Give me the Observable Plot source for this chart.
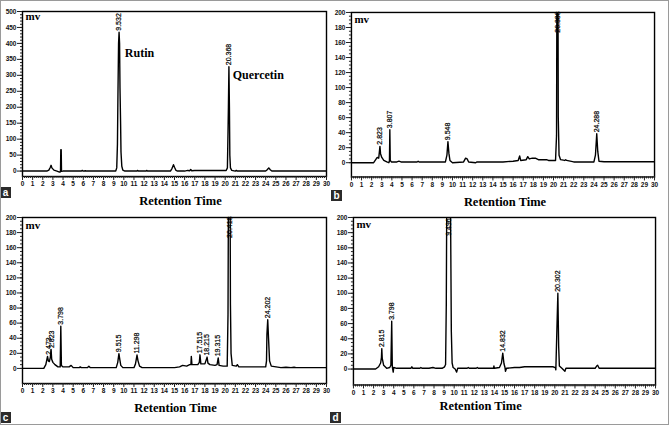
<!DOCTYPE html>
<html><head><meta charset="utf-8">
<script src="https://cdn.jsdelivr.net/npm/d3@7"></script>
<script src="https://cdn.jsdelivr.net/npm/@observablehq/plot@0.6"></script>
<style>
body{margin:0;background:#fff;}
#wrap{position:relative;width:669px;height:425px;box-sizing:border-box;border:1px solid #9a9a9a;overflow:hidden;background:#fff;}
.panel{position:absolute;}
.tag{position:absolute;background:#2b2b2b;color:#fff;font:bold 10px "Liberation Sans",Arial,sans-serif;width:11px;height:11px;line-height:11px;text-align:center;}
</style></head>
<body><div id="wrap"></div>
<script>
// ---- data: [retention time (min), signal (mV)] ----
const traceA = [[0,0],[2.4,0],[2.6,3],[2.75,12],[2.82,18],[2.9,10],[3.1,3],[3.4,0],[3.65,-3],[3.75,-2],[3.78,67],[3.82,67],[3.85,-1],[4.0,0],[5.8,0],[5.9,2],[6.0,0],[6.2,1],[6.3,0],[9.2,0],[9.3,10],[9.37,85],[9.42,242],[9.48,400],[9.53,435],[9.58,400],[9.62,262],[9.68,150],[9.72,60],[9.8,15],[9.9,3],[10.1,0],[11.3,0],[11.35,2],[11.45,0],[12.2,0],[12.25,2],[12.35,0],[14.6,0],[14.75,8],[14.9,20],[15.0,12],[15.15,2],[15.3,0],[16.0,0],[16.3,2],[16.5,1],[16.6,5],[16.7,1],[17.0,2],[20.1,2],[20.22,10],[20.28,121],[20.32,200],[20.37,327],[20.42,200],[20.46,50],[20.52,10],[20.65,2],[21.0,0],[21.1,2],[21.2,0],[24.0,0],[24.15,4],[24.3,10],[24.45,4],[24.6,0],[30,0]];
const traceB = [[0,0],[2.2,0],[2.4,4],[2.55,7],[2.7,6],[2.82,21.7],[2.88,12],[3.0,7],[3.2,3],[3.5,1],[3.7,0],[3.76,2],[3.8,44],[3.84,3],[3.95,1],[4.5,1],[4.7,2],[4.9,1],[6.5,1],[6.6,2],[6.7,1],[9.3,1],[9.45,10],[9.55,28],[9.65,12],[9.75,3],[10.0,0],[11.1,1],[11.3,6],[11.45,5],[11.6,1],[12.3,0],[12.4,1],[14.5,1],[15.0,1],[16.0,2],[16.5,3],[16.65,9],[16.75,3],[17.3,4],[17.45,8],[17.6,5],[17.9,6],[18.2,6],[18.5,4],[19.0,4],[19.3,4],[19.5,3],[20.2,3],[20.3,36],[20.34,260],[20.44,260],[20.47,61],[20.55,10],[20.7,4],[21.1,3],[21.2,4],[21.3,3],[22,1],[24.0,1],[24.15,10],[24.28,38.5],[24.38,15],[24.5,2],[25,1.3],[30,1.3]];
const traceC = [[0,0],[2.1,0],[2.3,5],[2.47,16],[2.55,10],[2.65,9],[2.75,15],[2.82,25],[2.88,12],[3.0,8],[3.2,5],[3.5,2],[3.72,2],[3.78,56],[3.84,4],[4.0,2],[4.6,2],[4.8,4],[5.0,1],[5.6,1],[5.7,2],[5.8,1],[6.4,1],[6.55,3],[6.7,1],[9.25,1],[9.4,8],[9.515,19.5],[9.6,12],[9.7,4],[9.9,1],[11.0,1],[11.15,6],[11.3,17.7],[11.4,10],[11.55,3],[11.8,1],[14.5,1],[15.0,1],[15.5,2],[15.8,4],[16.2,3],[16.5,5],[16.62,5],[16.66,16],[16.72,5],[17.3,5],[17.45,8],[17.515,18],[17.6,6],[17.8,6],[18.0,6],[18.215,15],[18.3,7],[18.5,5],[19.0,4],[19.2,5],[19.315,14],[19.4,4],[19.8,3],[20.2,3],[20.28,71],[20.33,260],[20.48,260],[20.52,85],[20.58,20],[20.7,4],[21.1,3],[21.2,5],[21.35,2],[24.0,2],[24.08,10],[24.12,45],[24.2,64.6],[24.28,40],[24.38,10],[24.55,3],[25.5,1],[26,1.5],[26.5,1],[26.8,1.5],[27,1],[30,1]];
const traceD = [[0,0],[2.2,0],[2.5,3],[2.7,8],[2.78,15],[2.815,27],[2.86,14],[3.0,5],[3.3,1],[3.6,2],[3.72,5],[3.8,63],[3.86,3],[3.95,-4],[4.0,2],[4.3,1],[5.7,1],[5.8,3],[5.9,1],[6.6,1],[6.7,2],[6.8,1],[7.5,1],[7.9,2],[8.2,1],[8.8,1],[9.05,3],[9.15,6],[9.22,85],[9.28,260],[9.62,260],[9.68,133],[9.72,50],[9.8,8],[9.9,2],[10.1,0],[10.25,-4],[10.35,1],[11.3,1],[11.4,2],[11.5,1],[12.2,1],[12.3,2],[12.4,1],[13.9,1],[13.95,4],[14.0,1],[14.5,2],[14.7,8],[14.83,21],[14.95,7],[15.05,2],[15.1,-3],[15.2,1],[16,2],[16.5,2],[17,3],[18,3],[19,3],[19.8,3],[20.05,2],[20.1,-1],[20.2,50],[20.3,100],[20.38,30],[20.45,4],[20.7,1],[21.0,-3],[21.1,1],[22,1],[24.0,1],[24.15,4],[24.25,5],[24.4,1],[30,1]];

// peak labels: [time, height where label starts, text]
const peaksA = [[9.532,435,"9.532"],[20.368,327,"20.368"]];
const peaksB = [[2.823,22,"2.823"],[3.807,44,"3.807"],[9.548,28,"9.548"],[20.388,171,"20.388"],[24.288,38.5,"24.288"]];
const peaksC = [[2.55,16,"2.473"],[2.88,25,"2.823"],[3.798,56,"3.798"],[9.515,19.5,"9.515"],[11.298,17.7,"11.298"],[17.515,18,"17.515"],[18.215,15,"18.215"],[19.315,14,"19.315"],[20.418,171,"20.418"],[24.202,64.6,"24.202"]];
const peaksD = [[2.815,27,"2.815"],[3.798,63,"3.798"],[9.45,174,"9.496"],[14.832,21,"14.832"],[20.302,100,"20.302"]];

// compound names (panel a)
const namesA = [[10.1,368,"Rutin"],[20.75,299,"Quercetin"]];

// axis ticks
const xTicks = [0,1,2,3,4,5,6,7,8,9,10,11,12,13,14,15,16,17,18,19,20,21,22,23,24,25,26,27,28,29,30];
const xMinor = d3.range(0, 30.001, 0.2);
const yTicksA = [0,50,100,150,200,250,300,350,400,450,500];
const yTicksBCD = [0,20,40,60,80,100,120,140,160,180,200];
const yMinorA = d3.range(0, 500.001, 10);
const yMinorBCD = d3.range(0, 200.001, 5);

const panels = [
  {id:"a", left:0, top:0, h:212, trace:traceA, peaks:peaksA, yDom:[-17,500], yT:yTicksA, yM:yMinorA, m:[11,9,36,22], mvDy:5, rtDx:6, rtDy:24, names:namesA, tag:[0,187]},
  {id:"b", left:334, top:0, h:212, trace:traceB, peaks:peaksB, yDom:[-19,200], yT:yTicksBCD, yM:yMinorBCD, m:[12,14,35,17], mvDy:7.5, rtDx:2, rtDy:25, names:[], tag:[331,190]},
  {id:"c", left:0, top:212, h:213, trace:traceC, peaks:peaksC, yDom:[-20,200], yT:yTicksBCD, yM:yMinorBCD, m:[5,9,42,22], mvDy:8, rtDx:1, rtDy:24, names:[], tag:[0,412]},
  {id:"d", left:334, top:212, h:213, trace:traceD, peaks:peaksD, yDom:[-21,200], yT:yTicksBCD, yM:yMinorBCD, m:[5,13,40,19], mvDy:7, rtDx:-24, rtDy:21, names:[], tag:[330,412]}
];

const wrap = document.getElementById("wrap");
const sans = "Liberation Sans, Arial, sans-serif";
const serif = "Liberation Serif, Times New Roman, serif";

for (const p of panels) {
  const chart = Plot.plot({
    width: 335, height: p.h,
    marginTop: p.m[0], marginRight: p.m[1], marginBottom: p.m[2], marginLeft: p.m[3],
    style: {background: "transparent", fontFamily: sans, color: "#000"},
    x: {domain: [0, 30]},
    y: {domain: p.yDom},
    marks: [
      Plot.line(p.trace, {x: d => d[0], y: d => d[1], stroke: "#000", strokeWidth: 1.4, clip: true}),
      Plot.text(p.peaks, {x: d => d[0], y: d => d[1], text: d => d[2], rotate: -90, textAnchor: "start", lineAnchor: "middle", dy: -1.5, fontSize: 7, fontFamily: sans, fill: "#000", stroke: "#000", strokeWidth: 0.2}),
      Plot.text(p.names, {x: d => d[0], y: d => d[1], text: d => d[2], textAnchor: "start", lineAnchor: "middle", fontSize: 12, fontWeight: "bold", fontFamily: serif, fill: "#000"}),
      Plot.frame({stroke: "#000", strokeWidth: 1.4}),
      Plot.axisY(p.yM, {tickSize: 2, tickFormat: () => "", label: null, stroke: "#222"}),
      Plot.axisY(p.yT, {tickSize: 5, tickPadding: 1, fontSize: 6.5, fontWeight: "bold", label: null, fill: "#111", stroke: "#222"}),
      Plot.axisX(xMinor, {tickSize: 2, tickFormat: () => "", label: null, stroke: "#222"}),
      Plot.axisX(xTicks, {tickSize: 4, tickPadding: 1, fontSize: 6.5, fontWeight: "bold", label: null, fill: "#111", stroke: "#222"}),
      Plot.text(["mv"], {frameAnchor: "top-left", text: d => d, dx: 3, dy: p.mvDy, textAnchor: "start", lineAnchor: "middle", fontSize: 11, fontWeight: "bold", fontFamily: serif, fill: "#000"}),
      Plot.text(["Retention Time"], {frameAnchor: "bottom", text: d => d, dx: p.rtDx, dy: p.rtDy, textAnchor: "middle", lineAnchor: "middle", fontSize: 12.5, fontWeight: "bold", fontFamily: serif, fill: "#000"})
    ]
  });
  const div = document.createElement("div");
  div.className = "panel";
  div.style.left = (p.left - 1) + "px";
  div.style.top = (p.top - 1) + "px";
  div.appendChild(chart);
  wrap.appendChild(div);
  const tag = document.createElement("div");
  tag.className = "tag";
  tag.textContent = p.id;
  tag.style.left = (p.tag[0] - 1) + "px";
  tag.style.top = (p.tag[1] - 1) + "px";
  wrap.appendChild(tag);
}
</script></body></html>
